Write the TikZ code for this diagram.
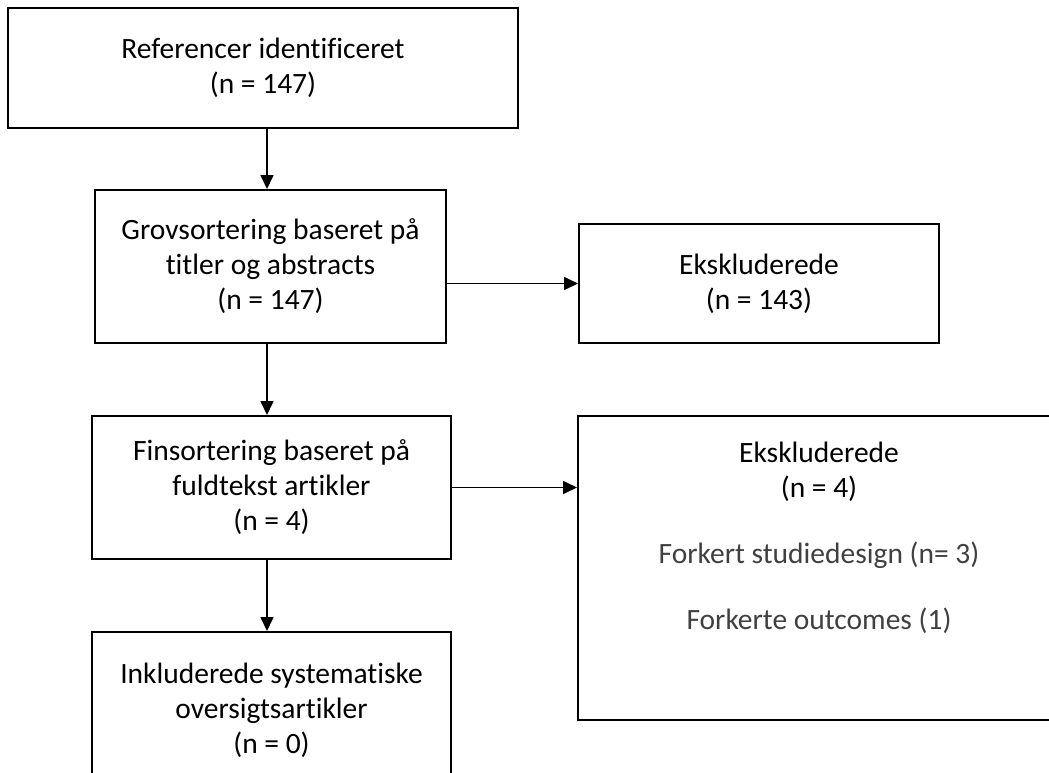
\documentclass[tikz,border=0pt]{standalone}
\usepackage{fontspec}
\setmainfont[Ligatures=NoCommon]{Carlito}
\usetikzlibrary{arrows.meta,calc}
\definecolor{subgray}{HTML}{404040}
\begin{document}
\begin{tikzpicture}[x=1pt,y=-1pt,
  box/.style={draw=black,line width=2pt,rectangle,inner sep=0pt,align=center,
    font=\fontsize{29.5}{35}\selectfont},
  arr/.style={line width=1.7pt,-{Triangle[length=14pt,width=13pt]}},
  subtxt/.style={inner sep=0pt,align=center,font=\fontsize{29.5}{35}\selectfont}]
\clip (0,0) rectangle (1049,773);
\useasboundingbox (0,0) rectangle (1049,773);
\node[box,minimum width=510pt,minimum height=120pt] (b1) at (263,68)
  {Referencer identificeret\\(n = 147)};
\node[box,minimum width=351pt,minimum height=153pt] (b2) at (270.5,266.5)
  {Grovsortering baseret på\\titler og abstracts\\(n = 147)};
\node[box,minimum width=360pt,minimum height=119pt] (b3) at (759,283.5)
  {Ekskluderede\\(n = 143)};
\node[box,minimum width=359pt,minimum height=143pt] (b4) at (271.5,487.5)
  {Finsortering baseret på\\fuldtekst artikler\\(n = 4)};
\node[box,minimum width=482pt,minimum height=304pt] (b5) at (819,568) {};
\node[subtxt,anchor=north] (b5t) at ($(b5.north)+(0,27)$)
  {Ekskluderede\\(n = 4)\\[31pt]{\color{subgray}Forkert studiedesign (n= 3)}\\[31pt]{\color{subgray}Forkerte outcomes (1)}};
\node[box,minimum width=359pt,minimum height=168pt] (b6) at (271.5,716)
  {Inkluderede systematiske\\oversigtsartikler\\(n = 0)\\[-20pt]\mbox{}};
\coordinate (ax) at (267,0);
\draw[arr] (b1.south -| ax) -- (b2.north -| ax);
\draw[arr] (b2.south -| ax) -- (b4.north -| ax);
\draw[arr] (b4.south -| ax) -- (b6.north -| ax);
\draw[arr] (b2.east |- b3.west) -- (b3.west);
\draw[arr] (b4.east) -- (b4.east -| b5.west);
\end{tikzpicture}
\end{document}
